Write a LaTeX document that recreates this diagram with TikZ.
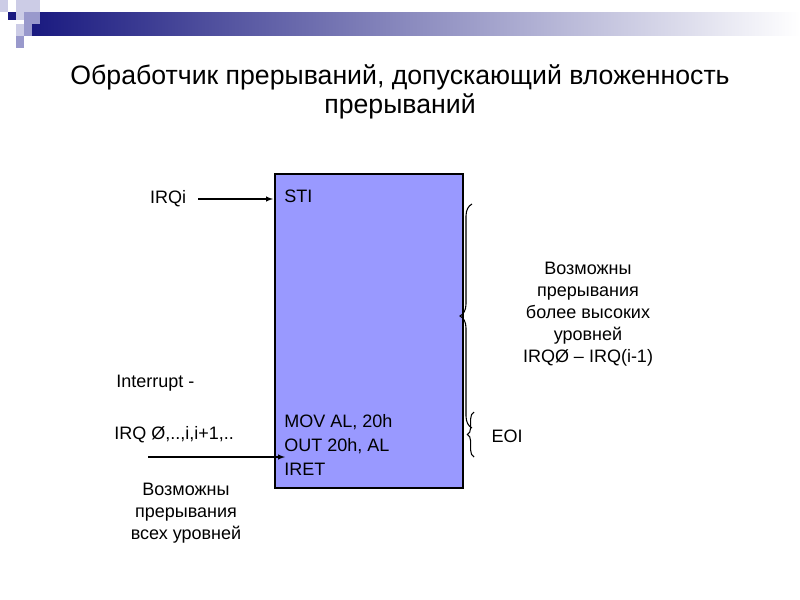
\documentclass[tikz,border=0pt]{standalone}
\usepackage{fontspec}
\setmainfont{Liberation Sans}
\usetikzlibrary{decorations.pathreplacing}
\definecolor{navy}{HTML}{1A1A80}
\definecolor{med}{HTML}{9999CC}
\definecolor{lite}{HTML}{CCCCE6}
\definecolor{boxc}{HTML}{9999FF}
\tikzset{txt/.style={font=\fontsize{13.5}{16.5}\selectfont,align=center,inner sep=0pt},
 arr/.style={-latex,thick},
 br/.style={decorate,decoration={brace,amplitude=9pt},thick}}
\begin{document}
\begin{tikzpicture}[x=0.75pt,y=-0.75pt]
\useasboundingbox (0,0) rectangle (800,600);
\shade[left color=navy,right color=white] (32,12) rectangle (800,35);
\fill[navy] (8,12) rectangle (16,20);
\fill[lite] (0,0) rectangle (8,12);
\fill[lite] (16,0) rectangle (40,12);
\fill[lite] (16,12) rectangle (24,20);
\fill[med] (24,12) rectangle (40,24);
\fill[lite] (16,24) rectangle (24,36);
\fill[med] (24,24) rectangle (32,36);
\fill[med] (16,36) rectangle (24,48);
\node[txt,font=\fontsize{20}{22}\selectfont] (title) at (400,92) {Обработчик прерываний, допускающий вложенность\\прерываний};
\draw[fill=boxc,thick] (275,174) rectangle (463,488);
\node (box) at (369,331) {};
\node[txt,anchor=west] (sti) at (284,196) {STI};
\node[txt,anchor=north west,align=left,font=\fontsize{13.5}{18}\selectfont] (code) at (284,414) {MOV AL, 20h\\OUT 20h, AL\\IRET};
\node[txt] (irqi) at (168,199) {IRQi};
\coordinate (irqin) at (273,199);
\draw[arr] (irqi.east)++(12,0) -- (irqin);
\node[txt,anchor=west] (intr) at (116,383) {Interrupt -};
\node[txt,anchor=west] (irqall) at (114,435) {IRQ Ø,..,i,i+1,..};
\coordinate (a0) at (148,457);
\coordinate (a1) at (285,457);
\draw[arr] (a0) -- (a1);
\node[txt] (all) at (186,513) {Возможны\\прерывания\\ всех уровней};
\draw[br] (472,428) -- (472,204);
\node[txt] (high) at (588,314) {Возможны\\прерывания\\более высоких\\уровней\\IRQØ – IRQ(i-1)};
\draw[br,decoration={amplitude=5pt}] (474,457) -- (474,412);
\node[txt] (eoi) at (507,436) {EOI};
\end{tikzpicture}
\end{document}
